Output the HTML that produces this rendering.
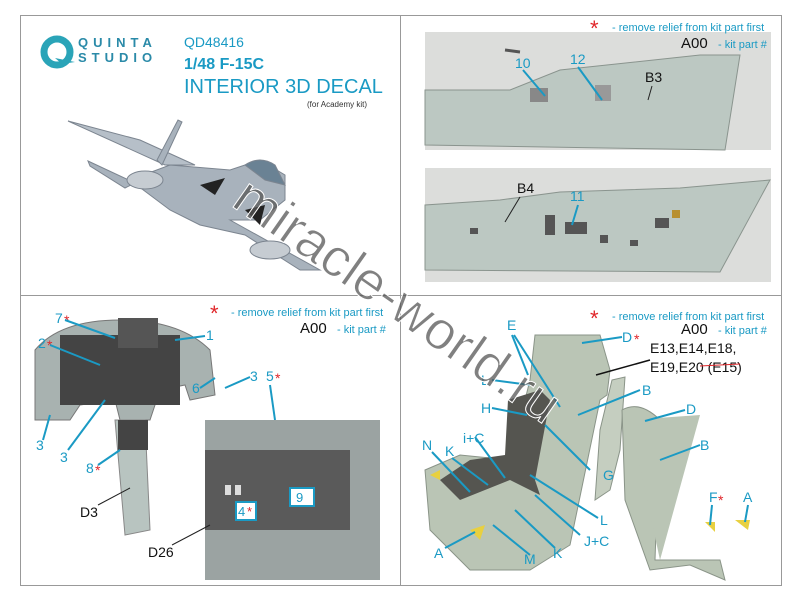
<!DOCTYPE html>
<html><head><meta charset="utf-8"><style>
body{margin:0;background:#fff;}
svg{display:block;font-family:"Liberation Sans",Arial,sans-serif;}
.c{fill:#1a9ac4;}
</style></head><body>
<svg width="800" height="600" viewBox="0 0 800 600" xmlns="http://www.w3.org/2000/svg">
<rect x="0" y="0" width="800" height="600" fill="#fff"/>
<rect x="20.5" y="15.5" width="761" height="570" fill="none" stroke="#999" stroke-width="1"/>
<line x1="400.5" y1="15" x2="400.5" y2="585" stroke="#999"/>
<line x1="20" y1="295.5" x2="781" y2="295.5" stroke="#999"/>

<!-- Logo -->
<circle cx="57" cy="52" r="13" fill="none" stroke="#2aa4b8" stroke-width="7"/>
<path d="M55 58 L75 62 L62 64 Z" fill="#2aa4b8"/>
<text x="78" y="47" font-size="13" font-weight="bold" fill="#2a8aa8" letter-spacing="5">QUINTA</text>
<text x="78" y="62" font-size="13" font-weight="bold" fill="#2a8aa8" letter-spacing="5">STUDIO</text>
<text x="184" y="47" font-size="14" class="c">QD48416</text>
<text x="184" y="69" font-size="16" font-weight="bold" class="c">1/48 F-15C</text>
<text x="184" y="93" font-size="20" class="c">INTERIOR 3D DECAL</text>
<text x="367" y="107" font-size="8" text-anchor="end" fill="#333">(for Academy kit)</text>

<!-- Plane -->
<g fill="#a8b2bc" stroke="#7c8590" stroke-width="1">
<path d="M68 121 L165 165 L195 165 L140 140 Z" fill="#b6bfc8"/>
<path d="M88 161 L135 183 L125 188 L90 166 Z"/>
<path d="M162 165 L182 122 L178 120 L157 160 Z"/>
<path d="M130 180 L170 165 L230 170 L260 160 L285 175 L285 200 L260 220 L230 220 L320 270 L300 270 L245 235 L200 225 L170 210 Z"/>
<ellipse cx="145" cy="180" rx="18" ry="9" fill="#c6ccd2"/>
<ellipse cx="270" cy="250" rx="20" ry="9" fill="#c6ccd2"/>
<path d="M245 165 Q260 155 275 165 L285 185 L265 180 Z" fill="#6a8294"/>
</g>
<path d="M200 185 L225 178 L215 195 Z M245 210 L265 205 L260 225 Z" fill="#222"/>

<!-- Top right -->
<rect x="425" y="32" width="346" height="118" fill="#dcdddb"/>
<path d="M425 145 L425 90 L510 90 L560 70 L700 55 L740 55 L725 150 Z" fill="#bcc8c2" stroke="#8a948e"/>
<rect x="530" y="88" width="18" height="14" fill="#888"/>
<rect x="595" y="85" width="16" height="16" fill="#999"/>
<line x1="505" y1="50" x2="520" y2="52" stroke="#555" stroke-width="3"/>
<text x="590" y="36" font-size="22" fill="#e0262a">*</text>
<text x="612" y="31" font-size="11" class="c">- remove relief from kit part first</text>
<text x="681" y="48" font-size="15" fill="#111">A00</text>
<text x="718" y="48" font-size="11" class="c">- kit part #</text>
<text x="515" y="68" font-size="14" class="c">10</text>
<text x="570" y="64" font-size="14" class="c">12</text>
<text x="645" y="82" font-size="14" fill="#111">B3</text>
<line x1="523" y1="70" x2="545" y2="96" stroke="#1a9ac4" stroke-width="2"/>
<line x1="578" y1="67" x2="602" y2="100" stroke="#1a9ac4" stroke-width="2"/>
<line x1="652" y1="86" x2="648" y2="100" stroke="#222"/>

<rect x="425" y="168" width="346" height="114" fill="#dcdddb"/>
<path d="M425 270 L425 205 L500 200 L560 192 L680 188 L770 180 L720 272 Z" fill="#bcc8c2" stroke="#8a948e"/>
<g fill="#555"><rect x="470" y="228" width="8" height="6"/><rect x="545" y="215" width="10" height="20"/><rect x="565" y="222" width="22" height="12"/><rect x="600" y="235" width="8" height="8"/><rect x="630" y="240" width="8" height="6"/><rect x="655" y="218" width="14" height="10"/><rect x="672" y="210" width="8" height="8" fill="#b89030"/></g>
<text x="517" y="193" font-size="14" fill="#111">B4</text>
<text x="570" y="201" font-size="14" class="c">11</text>
<line x1="520" y1="197" x2="505" y2="222" stroke="#222"/>
<line x1="578" y1="205" x2="572" y2="225" stroke="#1a9ac4" stroke-width="2"/>

<!-- Bottom left -->
<text x="210" y="321" font-size="22" fill="#e0262a">*</text>
<text x="231" y="316" font-size="11" class="c">- remove relief from kit part first</text>
<text x="300" y="333" font-size="15" fill="#111">A00</text>
<text x="337" y="333" font-size="11" class="c">- kit part #</text>
<path d="M35 350 Q60 320 120 320 Q180 320 210 350 L215 395 L190 400 L185 385 L160 390 L150 420 L120 420 L115 400 L80 405 L70 420 L35 420 Z" fill="#a8b2b0" stroke="#777"/>
<rect x="60" y="335" width="120" height="70" fill="#444"/>
<rect x="118" y="318" width="40" height="30" fill="#555"/>
<path d="M115 420 L145 420 L150 530 L125 535 Z" fill="#b8c4c0" stroke="#888"/>
<rect x="118" y="420" width="30" height="30" fill="#444"/>
<g font-size="14" class="c">
<text x="55" y="323">7</text><text x="38" y="348">2</text><text x="206" y="340">1</text>
<text x="250" y="381">3</text><text x="192" y="393">6</text><text x="36" y="450">3</text>
<text x="60" y="462">3</text><text x="86" y="473">8</text><text x="266" y="381">5</text>
</g>
<g font-size="14" fill="#e0262a"><text x="64" y="325">*</text><text x="47" y="350">*</text><text x="95" y="475">*</text><text x="275" y="383">*</text></g>
<g stroke="#1a9ac4" stroke-width="2">
<line x1="65" y1="320" x2="115" y2="338"/><line x1="50" y1="345" x2="100" y2="365"/><line x1="205" y1="336" x2="175" y2="340"/>
<line x1="250" y1="377" x2="225" y2="388"/><line x1="200" y1="388" x2="215" y2="378"/><line x1="43" y1="440" x2="50" y2="415"/>
<line x1="68" y1="450" x2="105" y2="400"/><line x1="98" y1="465" x2="120" y2="450"/><line x1="270" y1="385" x2="275" y2="420"/>
</g>
<text x="80" y="517" font-size="14" fill="#111">D3</text>
<line x1="98" y1="505" x2="130" y2="488" stroke="#222"/>
<rect x="205" y="420" width="175" height="160" fill="#9ba3a2"/>
<rect x="205" y="450" width="145" height="80" fill="#5a5a5a"/>
<rect x="225" y="485" width="6" height="10" fill="#ddd"/><rect x="235" y="485" width="6" height="10" fill="#ddd"/>
<rect x="290" y="488" width="24" height="18" fill="#fff" stroke="#1a9ac4" stroke-width="2"/>
<text x="296" y="502" font-size="13" class="c">9</text>
<rect x="236" y="502" width="20" height="18" fill="#fff" stroke="#1a9ac4" stroke-width="2"/>
<text x="238" y="516" font-size="13" class="c">4</text><text x="247" y="516" font-size="13" fill="#e0262a">*</text>
<text x="148" y="557" font-size="14" fill="#111">D26</text>
<line x1="172" y1="545" x2="210" y2="525" stroke="#222"/>

<!-- Bottom right: seats -->
<text x="590" y="326" font-size="22" fill="#e0262a">*</text>
<text x="612" y="320" font-size="11" class="c">- remove relief from kit part first</text>
<text x="681" y="334" font-size="15" fill="#111">A00</text>
<text x="718" y="334" font-size="11" class="c">- kit part #</text>
<path d="M535 335 L600 335 L610 370 L607 395 L600 400 L570 545 L530 570 L470 570 L430 530 L425 470 L460 455 L510 460 L530 380 Z" fill="#bac5b5" stroke="#8a9488"/>
<path d="M508 400 L540 390 L550 400 L535 480 L540 495 L510 480 L460 500 L440 480 L470 460 L505 455 Z" fill="#555550"/>
<path d="M612 380 L625 377 L620 450 L610 490 L595 500 L600 430 Z" fill="#c5cec0" stroke="#8a9488"/>
<path d="M622 410 Q640 400 660 420 L655 560 L720 560 L725 580 L690 565 L650 570 L625 500 Z" fill="#bac5b5" stroke="#8a9488"/>
<path d="M630 420 L700 415 L660 560 Z" fill="#bac5b5"/>
<path d="M430 475 L440 470 L440 480 Z M470 530 L485 525 L480 540 Z M735 520 L750 520 L748 530 Z M705 522 L715 522 L715 532 Z" fill="#e8d040"/>
<g font-size="14" class="c">
<text x="507" y="330">E</text><text x="622" y="342">D</text><text x="642" y="395">B</text><text x="686" y="414">D</text>
<text x="481" y="385">L</text><text x="481" y="413">H</text><text x="463" y="443">i+C</text><text x="422" y="450">N</text>
<text x="445" y="456">K</text><text x="603" y="480">G</text><text x="700" y="450">B</text><text x="600" y="525">L</text>
<text x="709" y="502">F</text><text x="743" y="502">A</text><text x="584" y="546">J+C</text><text x="434" y="558">A</text>
<text x="524" y="564">M</text><text x="553" y="558">K</text>
</g>
<g font-size="14" fill="#e0262a"><text x="634" y="344">*</text><text x="718" y="505">*</text></g>
<text x="650" y="353" font-size="14" fill="#111">E13,E14,E18,</text>
<text x="650" y="372" font-size="14" fill="#111">E19,E20 (E15)</text>
<line x1="700" y1="366" x2="740" y2="364" stroke="#e0262a"/>
<line x1="650" y1="360" x2="596" y2="375" stroke="#111" stroke-width="1.5"/>
<g stroke="#1a9ac4" stroke-width="2">
<line x1="512" y1="335" x2="528" y2="375"/><line x1="514" y1="335" x2="560" y2="407"/><line x1="622" y1="337" x2="582" y2="343"/>
<line x1="640" y1="390" x2="578" y2="415"/><line x1="685" y1="410" x2="645" y2="421"/><line x1="492" y1="380" x2="530" y2="385"/>
<line x1="492" y1="408" x2="527" y2="415"/><line x1="590" y1="470" x2="545" y2="425"/><line x1="700" y1="445" x2="660" y2="460"/>
<line x1="598" y1="518" x2="530" y2="475"/><line x1="712" y1="505" x2="710" y2="525"/><line x1="748" y1="505" x2="745" y2="522"/>
<line x1="580" y1="535" x2="535" y2="495"/><line x1="445" y1="548" x2="475" y2="532"/><line x1="530" y1="555" x2="493" y2="525"/>
<line x1="555" y1="548" x2="515" y2="510"/><line x1="475" y1="437" x2="505" y2="478"/><line x1="432" y1="452" x2="470" y2="492"/><line x1="452" y1="458" x2="488" y2="485"/>
</g>

<!-- watermark -->
<text x="0" y="0" transform="translate(230,205) rotate(35)" font-size="54" fill="#555" fill-opacity="0.75" stroke="#fff" stroke-width="1">miracle-world.ru</text>
</svg>
</body></html>
